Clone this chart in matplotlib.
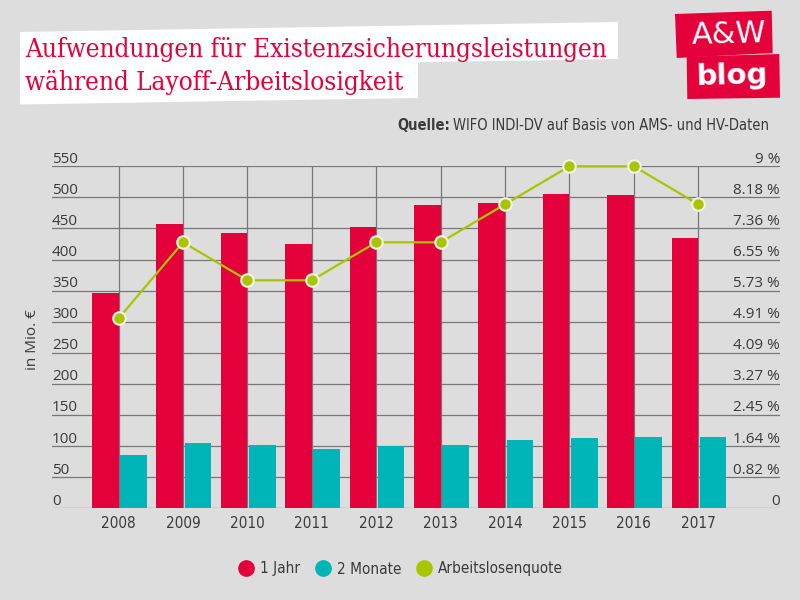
import matplotlib
matplotlib.use("Agg")
import matplotlib.pyplot as plt
import matplotlib.transforms as mtransforms
from matplotlib.patches import Polygon
from matplotlib.lines import Line2D

years = ["2008", "2009", "2010", "2011", "2012", "2013", "2014", "2015", "2016", "2017"]
jahr = [346, 457, 443, 425, 452, 488, 491, 506, 504, 434]
monate = [85, 105, 102, 95, 100, 102, 110, 113, 115, 115]
quote = [5.0, 7.0, 6.0, 6.0, 7.0, 7.0, 8.0, 9.0, 9.0, 8.0]
left_ticks = list(range(0, 551, 50))
right_labels = ["0", "0.82 %", "1.64 %", "2.45 %", "3.27 %", "4.09 %", "4.91 %",
                "5.73 %", "6.55 %", "7.36 %", "8.18 %", "9 %"]

RED = "#e4003a"
TEAL = "#00b5b8"
GREEN = "#a9c500"
BG = "#dddddd"
GRID = "#777777"
TXT = "#3a3a3a"

narrow = dict(family=["DejaVu Sans"], fontstretch="condensed")
plain = ["Open Sans", "DejaVu Sans"]

W, H = 800, 600
def px(x, y):
    return (x / W, 1 - y / H)

fig = plt.figure(figsize=(8, 6), dpi=100, facecolor=BG)
renderer = fig.canvas.get_renderer()

def fit_width(t, target):
    # shrink/grow the text until it spans the target width in pixels
    for _ in range(3):
        w = t.get_window_extent(renderer).width
        t.set_fontsize(t.get_fontsize() * target / w)

# title box (slightly tilted)
box = [px(20, 32), px(618, 22), px(618, 59), px(418, 62.3), px(418, 98), px(20, 104.5)]
fig.patches.append(Polygon(box, closed=True, transform=fig.transFigure,
                           facecolor="white", edgecolor="none"))
t1 = fig.text(*px(25, 57), "Aufwendungen für Existenzsicherungsleistungen", color=RED,
              fontsize=19, family=["DejaVu Serif"], fontstretch="condensed",
              va="baseline", ha="left")
fit_width(t1, 582)
fig.text(*px(25, 90), "während Layoff-Arbeitslosigkeit", color=RED,
         fontsize=t1.get_fontsize(), family=["DejaVu Serif"], fontstretch="condensed",
         va="baseline", ha="left")

# logo
logo1 = [px(675, 14), px(771.7, 10.7), px(772.7, 53), px(676.7, 58)]
logo2 = [px(686.7, 56.7), px(779.3, 54), px(780, 97.7), px(687.3, 99)]
for poly in (logo1, logo2):
    fig.patches.append(Polygon(poly, closed=True, transform=fig.transFigure,
                               facecolor=RED, edgecolor="none"))
fig.text(*px(729, 35), "A&W", color="white", fontsize=22, family=["DejaVu Sans"],
         ha="center", va="center", rotation=1.5)
fig.text(*px(732.5, 76), "blog", color="white", fontsize=21, family=["DejaVu Sans"],
         weight="bold", ha="center", va="center", rotation=1.5)

# source line
src = fig.text(*px(769, 125), "WIFO INDI-DV auf Basis von AMS- und HV-Daten", color=TXT,
               fontsize=10.5, ha="right", va="center", **narrow)
bb = src.get_window_extent(renderer)
fig.text((bb.x0 - 3) / W, 1 - 125 / H, "Quelle:", color=TXT, fontsize=10.5,
         weight="bold", ha="right", va="center", **narrow)

# main axes
ax = fig.add_axes([52 / W, (H - 508.3) / H, 728 / W, (508.3 - 166.3) / H])
ax.set_facecolor("none")
ax.set_xlim(-1.035, 10.27)
ax.set_ylim(0, 550)
for s in ax.spines.values():
    s.set_visible(False)
ax.set_xticks([])
ax.set_yticks([])

x = list(range(len(years)))
for v in left_ticks:
    ax.axhline(v, color=GRID, lw=0.9, zorder=0)
ax.vlines(x, 0, 550, color=GRID, lw=0.9, zorder=0)

bw = 0.413
ax.bar([i - bw for i in x], jahr, width=bw, align="edge", color=RED, zorder=2)
ax.bar([i + 0.025 for i in x], monate, width=bw, align="edge", color=TEAL, zorder=2)

trans = mtransforms.blended_transform_factory(ax.transAxes, ax.transData)
for v, rl in zip(left_ticks, right_labels):
    ax.annotate(str(v), xy=(0, v), xycoords=trans, xytext=(0, 2.6),
                textcoords="offset points", ha="left", va="baseline",
                fontsize=11, color=TXT, family=plain)
    ax.annotate(rl, xy=(1, v), xycoords=trans, xytext=(0, 2.6),
                textcoords="offset points", ha="right", va="baseline",
                fontsize=11, color=TXT, family=plain)

for i, yr in zip(x, years):
    ax.annotate(yr, xy=(i, 0), xytext=(0, -11), textcoords="offset points",
                ha="center", va="center", fontsize=11, color=TXT, **narrow)

ax2 = ax.twinx()
ax2.set_ylim(0, 9)
ax2.set_facecolor("none")
for s in ax2.spines.values():
    s.set_visible(False)
ax2.set_yticks([])
ax2.plot(x, quote, color=GREEN, lw=1.6, marker="o", markersize=9,
         markerfacecolor=GREEN, markeredgecolor="#f2f2e6", markeredgewidth=1.5,
         clip_on=False, zorder=3)

fig.text(*px(32, 340), "in Mio. €", rotation=90, ha="center", va="center",
         fontsize=11, color=TXT, family=plain)

handles = [Line2D([], [], ls="", marker="o", markersize=11, color=c)
           for c in (RED, TEAL, GREEN)]
fig.legend(handles, ["1 Jahr", "2 Monate", "Arbeitslosenquote"], loc="center",
           bbox_to_anchor=px(400, 569), ncol=3, frameon=False, handletextpad=0.3,
           columnspacing=0.9, handlelength=1.2,
           prop={"family": "DejaVu Sans", "stretch": "condensed", "size": 11},
           labelcolor=TXT)

fig.savefig("out.png", dpi=100, facecolor=BG)
